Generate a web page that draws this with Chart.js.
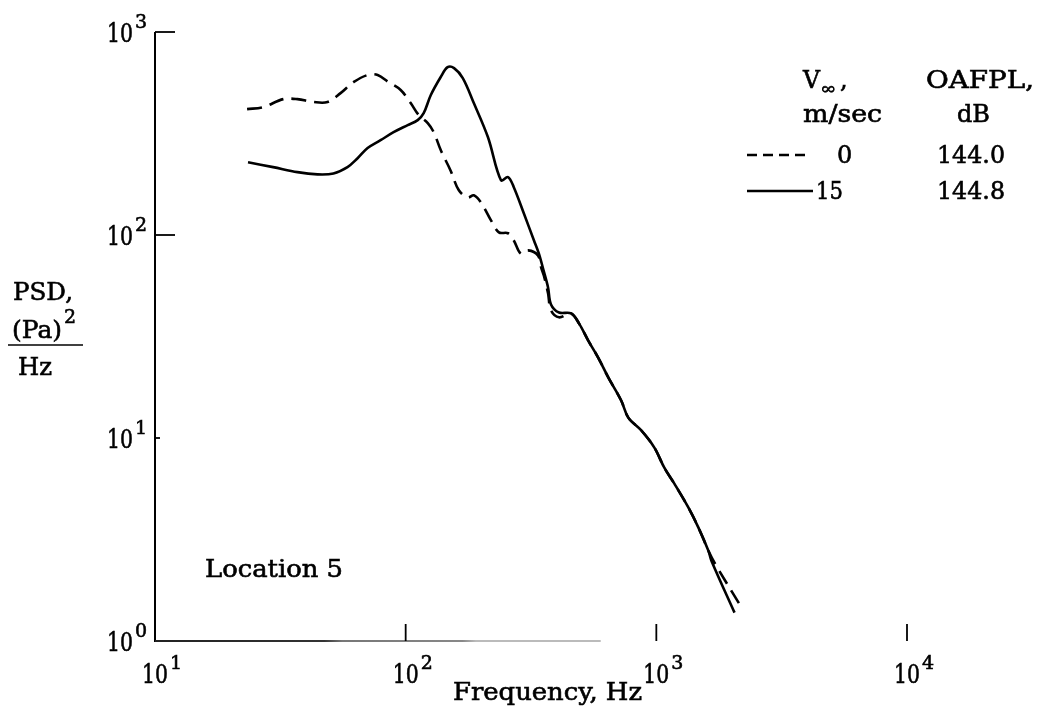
<!DOCTYPE html>
<html>
<head>
<meta charset="utf-8">
<script src="https://cdn.jsdelivr.net/npm/chart.js@4.4.0/dist/chart.umd.min.js"></script>
<style>
  html, body { margin: 0; padding: 0; background: #fff; }
  #wrap { width: 1039px; height: 708px; }
</style>
</head>
<body>
<div id="wrap"><canvas id="psdChart" width="1039" height="708"></canvas></div>
<script>
// values (Hz, Pa^2/Hz)
const freqV0 = [23.3, 27, 32.5, 37, 42.9, 48.8, 55, 61.9, 70.5, 77.3, 85.5, 95.5, 104.7, 112.7, 122.5, 129.4, 138, 151, 163, 177, 187, 199.5, 219, 235.5, 256, 270, 288, 308, 337, 347, 356, 370, 380, 409, 457, 492, 535, 586, 643, 724, 773, 871, 982, 1076, 1180, 1343, 1472, 1614, 1706, 2188];
const psdV0 = [417, 426, 467, 467, 452, 452, 500, 566, 614, 614, 566, 518, 447, 390, 356, 321, 262, 208, 166, 153, 157, 145, 118, 103, 102, 94, 81, 84, 79.4, 69.3, 63, 51.5, 42.5, 39.3, 41.1, 36.6, 30.2, 24.9, 19.9, 15.3, 12.6, 10.9, 8.97, 7.14, 5.96, 4.54, 3.62, 2.78, 2.43, 1.46];

const freqV15 = [23.5, 29.6, 37, 44.5, 51.5, 58.6, 64.3, 70.5, 79.4, 89.5, 101.9, 111.7, 118, 126, 138, 147, 156, 169, 187, 213, 240, 256, 270, 296, 325, 340, 356, 370, 380, 409, 457, 492, 535, 586, 643, 724, 773, 871, 982, 1076, 1180, 1343, 1472, 1614, 1660, 2051];
const psdV15 = [228, 216, 204, 199, 201, 216, 239, 268, 293, 321, 348, 368, 398, 489, 600, 671, 664, 593, 447, 303, 186, 193, 172, 128, 94, 81, 66, 55, 45.5, 41.5, 41.1, 36.6, 30.2, 24.9, 19.9, 15.3, 12.6, 10.9, 8.97, 7.14, 5.96, 4.54, 3.62, 2.78, 2.48, 1.38];

const xDecades = [1, 2, 3, 4];
const yDecades = [0, 1, 2, 3];

const legendSpeeds = ['0', '15'];
const legendLevels = ['144.0', '144.8'];

const ink = '#000';
const serif = '"DejaVu Serif", "Liberation Serif", serif';

function toPoints(xs, ys) {
  return xs.map((x, i) => ({ x: x, y: ys[i] }));
}

// text squeezed/stretched to a given width (the scan's typeface is wider than DejaVu),
// with a thin stroke to get the heavier look of the print
function fitText(ctx, str, x, base, size, width, align) {
  ctx.font = size + 'px ' + serif;
  const w = ctx.measureText(str).width;
  const sx = width ? width / w : 1;
  ctx.save();
  ctx.translate(x, base);
  ctx.scale(sx, 1);
  ctx.textAlign = align || 'left';
  ctx.textBaseline = 'alphabetic';
  ctx.lineWidth = 0.6;
  ctx.strokeStyle = ink;
  ctx.fillText(str, 0, 0);
  ctx.strokeText(str, 0, 0);
  ctx.restore();
}

// "10" with a raised exponent; cx = centre of "10"
function drawPow(ctx, exp, cx, base) {
  fitText(ctx, '10', cx, base, 26, 26, 'center');
  fitText(ctx, String(exp), cx + 15, base - 14, 19, 0, 'left');
}

const figureDecor = {
  id: 'figureDecor',
  afterDraw(chart) {
    const ctx = chart.ctx;
    const xs = chart.scales.x, ys = chart.scales.y;
    const area = chart.chartArea;
    ctx.save();
    ctx.fillStyle = ink;
    ctx.strokeStyle = ink;

    // left axis
    ctx.lineWidth = 2;
    ctx.beginPath();
    ctx.moveTo(area.left, area.top);
    ctx.lineTo(area.left, area.bottom + 1);
    ctx.stroke();

    // bottom axis, fading out in the scan
    const x0 = area.left, x1 = xs.getPixelForValue(600);
    const grad = ctx.createLinearGradient(x0, 0, x1, 0);
    grad.addColorStop(0, '#222');
    grad.addColorStop(0.38, '#333');
    grad.addColorStop(0.42, '#777');
    grad.addColorStop(0.69, '#888');
    grad.addColorStop(0.72, '#bbb');
    grad.addColorStop(1, '#bbb');
    ctx.strokeStyle = grad;
    ctx.beginPath();
    ctx.moveTo(x0, area.bottom);
    ctx.lineTo(x1, area.bottom);
    ctx.stroke();
    ctx.strokeStyle = ink;

    // inward decade ticks + labels
    yDecades.forEach(d => {
      const py = ys.getPixelForValue(Math.pow(10, d));
      const len = d >= 2 ? 20 : (d === 1 ? 5 : 0);
      if (len) {
        ctx.lineWidth = 1.8;
        ctx.beginPath();
        ctx.moveTo(area.left, py);
        ctx.lineTo(area.left + len, py);
        ctx.stroke();
      }
      drawPow(ctx, d, area.left - 35, py + 10);
    });
    xDecades.forEach(d => {
      const px = xs.getPixelForValue(Math.pow(10, d));
      if (d > 1) {
        ctx.lineWidth = 1.8;
        ctx.beginPath();
        ctx.moveTo(px, area.bottom);
        ctx.lineTo(px, area.bottom - 17);
        ctx.stroke();
      }
      drawPow(ctx, d, px, area.bottom + 42);
    });

    // axis titles
    fitText(ctx, 'Frequency, Hz', 453, 700, 24, 189);

    fitText(ctx, 'PSD,', 13, 300, 24, 60);
    fitText(ctx, '(Pa)', 12, 338, 24, 50);
    fitText(ctx, '2', 64, 323, 19, 0);
    ctx.lineWidth = 1.3;
    ctx.beginPath();
    ctx.moveTo(8, 345);
    ctx.lineTo(83, 345);
    ctx.stroke();
    fitText(ctx, 'Hz', 18, 375, 24, 34);

    fitText(ctx, 'Location 5', 205, 577, 24, 138);

    // legend
    fitText(ctx, 'V', 803, 88, 24, 17);
    fitText(ctx, '\u221e', 820, 94, 16, 16);
    fitText(ctx, ',', 840, 88, 24, 0);
    fitText(ctx, 'OAFPL,', 926, 88, 24, 108);
    fitText(ctx, 'm/sec', 803, 122, 24, 79);
    fitText(ctx, 'dB', 957, 122, 24, 33);

    const rows = [163, 199];
    rows.forEach((ry, i) => {
      ctx.strokeStyle = ink;
      ctx.lineWidth = 2.5;
      ctx.setLineDash(i === 0 ? [10, 6] : []);
      ctx.beginPath();
      ctx.moveTo(747, ry - 8);
      ctx.lineTo(i === 0 ? 808 : 813, ry - 8);
      ctx.stroke();
      ctx.setLineDash([]);
      fitText(ctx, legendSpeeds[i], i === 0 ? 837 : 816, ry, 24, i === 0 ? 0 : 27);
      fitText(ctx, legendLevels[i], 937, ry, 24, 68);
    });

    ctx.restore();
  }
};

const ctx = document.getElementById('psdChart').getContext('2d');
new Chart(ctx, {
  type: 'line',
  data: {
    datasets: [{
      label: '0 m/sec',
      data: toPoints(freqV0, psdV0),
      borderColor: ink,
      borderWidth: 2.6,
      borderDash: [15, 8],
      pointRadius: 0,
      tension: 0.35,
      fill: false
    }, {
      label: '15 m/sec',
      data: toPoints(freqV15, psdV15),
      borderColor: ink,
      borderWidth: 2.6,
      pointRadius: 0,
      tension: 0.35,
      fill: false
    }]
  },
  options: {
    responsive: false,
    animation: false,
    parsing: { xAxisKey: 'x', yAxisKey: 'y' },
    layout: { padding: { left: 155, right: 132, top: 32, bottom: 67 } },
    scales: {
      x: { type: 'logarithmic', min: 10, max: 10000, display: false },
      y: { type: 'logarithmic', min: 1, max: 1000, display: false }
    },
    plugins: {
      legend: { display: false },
      tooltip: { enabled: false }
    }
  },
  plugins: [figureDecor]
});
</script>
</body>
</html>
